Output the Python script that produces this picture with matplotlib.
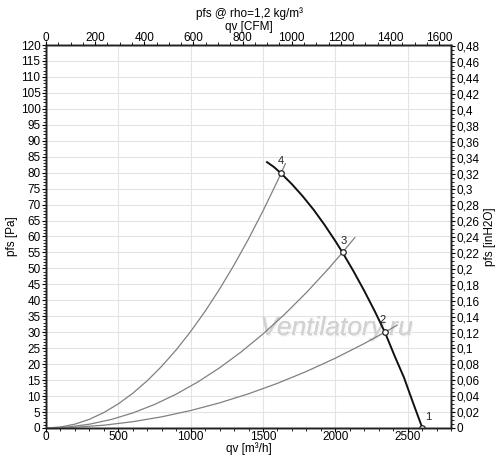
import matplotlib
matplotlib.use("Agg")
from matplotlib import pyplot as plt
from matplotlib.ticker import MultipleLocator, FuncFormatter
import matplotlib.patheffects as pe

plt.rcParams['font.family'] = ['Liberation Sans', 'DejaVu Sans']

# fan curve, pfs [Pa] over qv [m3/h]
fan_q = [1528, 1575, 1625, 1700, 1775, 1850, 1925, 2000, 2050, 2125, 2200,
         2275, 2343, 2410, 2475, 2540, 2602]
fan_p = [83.3, 81.8, 79.8, 76.4, 72.6, 68.4, 63.7, 58.6, 55.0, 49.2, 43.0,
         36.4, 30.0, 22.6, 15.8, 7.6, 0.0]

# system curves through working points 4, 3, 2
sys4_q = [0, 100, 200, 300, 400, 500, 600, 700, 800, 900, 1000, 1100, 1200,
          1300, 1400, 1500, 1600, 1655]
sys4_p = [0, 0.30, 1.21, 2.72, 4.84, 7.56, 10.88, 14.81, 19.34, 24.48, 30.22,
          36.57, 43.52, 51.07, 59.23, 68.0, 77.36, 82.8]
sys3_q = [0, 150, 300, 450, 600, 750, 900, 1050, 1200, 1350, 1500, 1650, 1800,
          1950, 2050, 2135]
sys3_p = [0, 0.29, 1.18, 2.65, 4.71, 7.36, 10.60, 14.43, 18.85, 23.86, 29.45,
          35.64, 42.41, 49.77, 55.0, 59.67]
sys2_q = [0, 200, 400, 600, 800, 1000, 1200, 1400, 1600, 1800, 2000, 2200,
          2343, 2428]
sys2_p = [0, 0.22, 0.87, 1.97, 3.50, 5.47, 7.87, 10.71, 13.99, 17.71, 21.86,
          26.45, 30.0, 32.22]

# working points
pt_q = [2602, 2343, 2050, 1625]
pt_p = [0.0, 30.0, 55.0, 79.8]
pt_names = ['1', '2', '3', '4']

PA_PER_INH2O = 249.089
M3H_PER_CFM = 1.699

fig = plt.figure(figsize=(5.0, 4.65), dpi=100)
ax = fig.add_axes([0.092, 0.0796, 0.81, 0.8236])

ax.set_xlim(0, 2800)
ax.set_ylim(0, 120)

for q, p in [(sys4_q, sys4_p), (sys3_q, sys3_p), (sys2_q, sys2_p)]:
    ax.plot(q, p, color='#808080', lw=0.9, zorder=3)
ax.plot(fan_q, fan_p, color='#111111', lw=1.4, zorder=4)
ax.plot(pt_q, pt_p, ls='none', marker='o', ms=4, mfc='white', mec='#222222',
        mew=0.9, zorder=5)
offs = {'1': (4, 4), '2': (-2, 5), '3': (1, 5), '4': (0, 5)}
for q, p, n in zip(pt_q, pt_p, pt_names):
    ax.annotate(n, (q, p), xytext=offs[n], textcoords='offset points',
                ha='center', va='bottom', fontsize=8, color='#222222', zorder=6)

ax.xaxis.set_major_locator(MultipleLocator(500))
ax.xaxis.set_minor_locator(MultipleLocator(100))
ax.yaxis.set_major_locator(MultipleLocator(5))
ax.yaxis.set_minor_locator(MultipleLocator(1))
ax.grid(True, which='major', color='#e4e4e4', lw=0.8, zorder=0)
ax.tick_params(which='both', direction='out', labelsize=8.5, pad=1)
ax.tick_params(axis='x', which='both', pad=-0.5)
ax.tick_params(which='major', length=3)
ax.tick_params(which='minor', length=2)
ax.set_xlabel('qv [m³/h]', fontsize=8.5)
ax.xaxis.set_label_coords(0.5, -0.055)
ax.xaxis.label.set_va('center')
ax.set_ylabel('pfs [Pa]', fontsize=8.5, labelpad=2)

comma = FuncFormatter(lambda v, pos: ('%g' % round(v, 4)).replace('.', ','))

ax_r = ax.twinx()
ax_r.set_ylim(0, 120 / PA_PER_INH2O)
ax_r.yaxis.set_major_locator(MultipleLocator(0.02))
ax_r.yaxis.set_minor_locator(MultipleLocator(0.005))
ax_r.yaxis.set_major_formatter(comma)
ax_r.tick_params(which='both', direction='out', labelsize=8.5, pad=1)
ax_r.tick_params(which='major', length=3)
ax_r.tick_params(which='minor', length=2)
ax_r.set_ylabel('pfs [inH2O]', fontsize=8.5, labelpad=3)

ax_t = ax.twiny()
ax_t.set_xlim(0, 2800 / M3H_PER_CFM)
ax_t.xaxis.set_major_locator(MultipleLocator(200))
ax_t.xaxis.set_minor_locator(MultipleLocator(50))
ax_t.tick_params(which='both', direction='out', labelsize=8.5, pad=-2.5)
ax_t.tick_params(which='major', length=3)
ax_t.tick_params(which='minor', length=2)
ax_t.set_xlabel('qv [CFM]', fontsize=8.5)
ax_t.xaxis.set_label_coords(0.5, 1.047)
ax_t.xaxis.label.set_va('center')

for a in (ax, ax_r, ax_t):
    for s in a.spines.values():
        s.set_color('#222222')
        s.set_linewidth(1.0)

fig.text(0.5, 0.970, 'pfs @ rho=1,2 kg/m³', ha='center', va='center', fontsize=8.5)

ax.text(2008, 31.3, 'Ventilatory.ru', fontsize=19, style='italic', color='#d2d2d2',
        ha='center', va='center', zorder=2,
        path_effects=[pe.withSimplePatchShadow(offset=(1, -1), shadow_rgbFace='#f4f4f4', alpha=1),
                      pe.Normal()])

fig.savefig('out.png', dpi=100)
